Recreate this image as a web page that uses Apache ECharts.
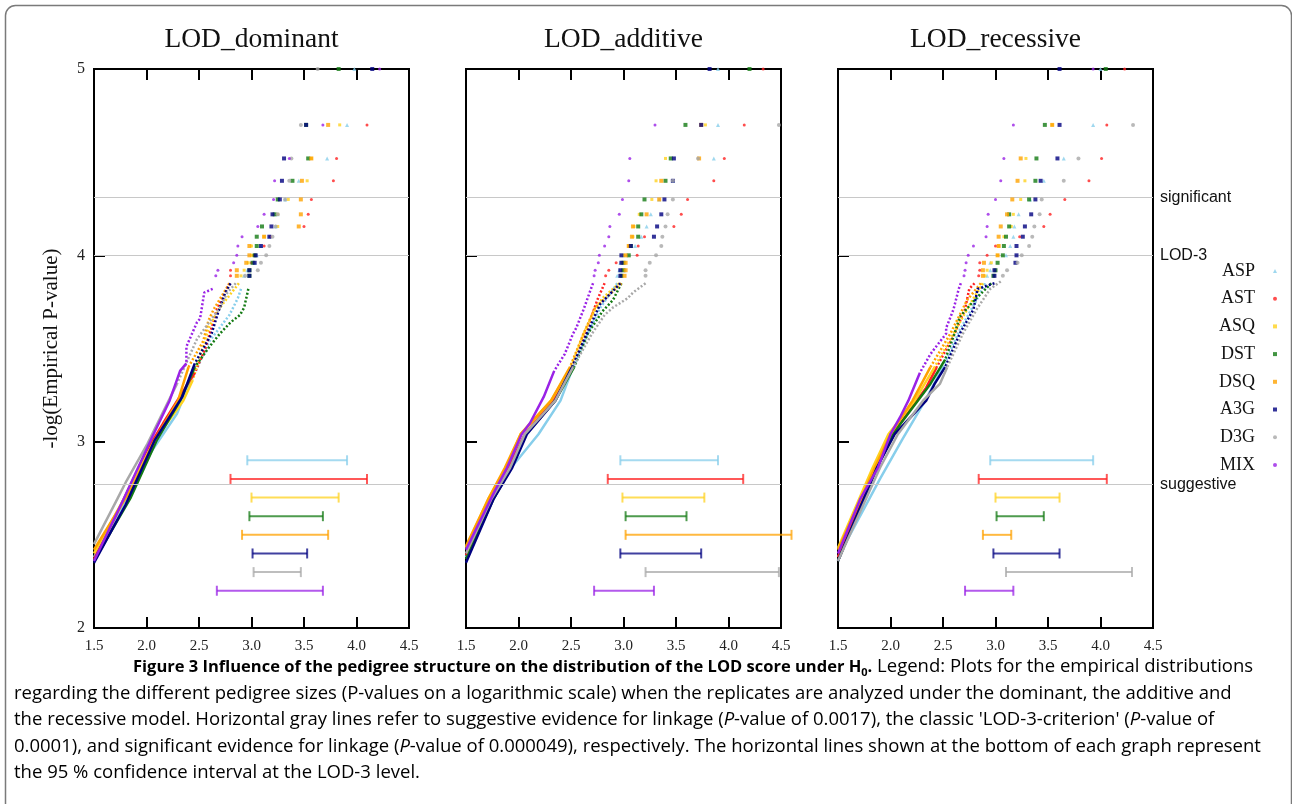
<!DOCTYPE html>
<html>
<head>
<meta charset="utf-8">
<script src="https://cdn.jsdelivr.net/npm/echarts@6/dist/echarts.min.js"></script>
<style>
  html, body { margin: 0; padding: 0; background: #fff; }
  #chart { width: 1292px; height: 804px; }
</style>
</head>
<body>
<div id="chart"></div>
<script>
// pedigree sizes, in legend order
const NAMES = ["ASP", "AST", "ASQ", "DST", "DSQ", "A3G", "D3G", "MIX"];
const COLORS = ["#87ceeb", "#ff2020", "#ffd21f", "#137a13", "#ffa200", "#000080", "#a8a8a8", "#9a22e6"];
const SYMBOLS = ["triangle", "circle", "rect", "rect", "rect", "rect", "circle", "circle"];
const SIZES = [4, 3, 3, 4, 4, 4, 4, 3];

const TITLES = ["LOD_dominant", "LOD_additive", "LOD_recessive"];

// -log(p) levels of the top ranked replicates (discrete points)
const LEVEL_Y = [5.0, 4.70, 4.52, 4.40, 4.30, 4.22, 4.155, 4.10, 4.05, 4.00, 3.96, 3.92, 3.89];
// y position of the confidence interval bars
const CI_Y = [2.9, 2.8, 2.7, 2.6, 2.5, 2.4, 2.3, 2.2];
// reference lines
const REF_Y = [2.77, 4.0, 4.31];
const REF_LABELS = ["suggestive", "LOD-3", "significant"];

// ---- LOD_dominant ----
const domLevels = [
  [3.98, 3.91, 3.72, 3.45, 3.32, 3.25, 3.23, 3.17, 3.09, 3.05, 3.03, 2.96, 2.93],
  [null, 4.10, 3.81, 3.78, 3.57, 3.54, 3.50, 3.18, 3.12, 3.02, 3.00, 2.80, 2.80],
  [null, 3.84, 3.57, 3.53, 3.35, 3.25, 3.25, 3.12, 3.00, 3.00, 2.97, 2.93, 2.90],
  [3.83, 3.52, 3.54, 3.39, 3.25, 3.22, 3.10, 3.05, 3.05, 3.03, 3.01, 2.98, 2.98],
  [null, 3.73, 3.57, 3.48, 3.47, 3.47, 3.45, 3.12, 2.98, 2.98, 2.95, 2.86, 2.86],
  [4.15, 3.52, 3.31, 3.29, 3.27, 3.20, 3.19, 3.17, 3.09, 3.04, 3.03, 2.98, 2.98],
  [3.63, 3.47, 3.38, 3.36, 3.32, 3.25, 3.23, 3.20, 3.17, 3.14, 3.09, 3.06, 2.94],
  [4.22, 3.68, 3.36, 3.22, 3.21, 3.12, 3.06, 2.91, 2.87, 2.86, 2.83, 2.68, 2.66]
];
const domTails = [
  [[2.90, 3.82], [2.87, 3.77], [2.79, 3.68], [2.60, 3.54], [2.43, 3.33], [2.37, 3.26], [2.29, 3.15], [2.05, 2.95], [1.75, 2.62], [1.5, 2.38]],
  [[2.79, 3.85], [2.67, 3.71], [2.64, 3.65], [2.56, 3.50], [2.46, 3.37], [2.16, 3.10], [2.0, 2.95], [1.75, 2.65], [1.5, 2.37]],
  [[2.88, 3.85], [2.70, 3.72], [2.60, 3.62], [2.52, 3.48], [2.44, 3.33], [2.35, 3.22], [2.08, 3.01], [1.85, 2.76], [1.5, 2.40]],
  [[2.97, 3.82], [2.93, 3.72], [2.89, 3.68], [2.80, 3.64], [2.70, 3.58], [2.60, 3.51], [2.46, 3.40], [2.32, 3.22], [2.10, 3.01], [1.85, 2.70], [1.5, 2.36]],
  [[2.79, 3.85], [2.64, 3.71], [2.59, 3.65], [2.54, 3.54], [2.40, 3.40], [2.30, 3.22], [2.08, 3.01], [1.87, 2.76], [1.5, 2.42]],
  [[2.80, 3.85], [2.75, 3.80], [2.68, 3.69], [2.62, 3.58], [2.46, 3.42], [2.34, 3.24], [2.08, 3.01], [1.80, 2.66], [1.5, 2.35]],
  [[2.85, 3.85], [2.77, 3.80], [2.70, 3.72], [2.48, 3.55], [2.29, 3.31], [2.01, 2.99], [1.81, 2.79], [1.72, 2.69], [1.5, 2.45]],
  [[2.63, 3.82], [2.55, 3.80], [2.51, 3.66], [2.48, 3.64], [2.38, 3.51], [2.38, 3.42], [2.32, 3.38], [2.22, 3.22], [2.05, 3.02], [1.78, 2.69], [1.5, 2.36]]
];
const domCI = [[2.96, 3.91], [2.80, 4.10], [3.00, 3.83], [2.98, 3.68], [2.91, 3.73], [3.01, 3.53], [3.02, 3.47], [2.67, 3.68]];

// ---- LOD_additive ----
const addLevels = [
  [3.90, 3.90, 3.86, 3.47, 3.34, 3.26, 3.22, 3.17, 3.11, 3.00, 2.97, 2.96, 2.94],
  [4.33, 4.15, 3.96, 3.86, 3.61, 3.55, 3.48, 3.20, 3.14, 3.13, 2.93, 2.86, 2.83],
  [null, 3.78, 3.40, 3.31, 3.27, 3.15, 3.10, 3.09, 3.05, 3.00, 2.99, 2.99, 2.98],
  [4.20, 3.59, 3.45, 3.40, 3.20, 3.17, 3.14, 3.14, 3.07, 3.05, 3.00, 3.00, 2.98],
  [null, 3.74, 3.72, 3.36, 3.34, 3.22, 3.09, 3.08, 3.05, 3.02, 3.02, 3.02, 3.01],
  [3.82, 3.74, 3.48, 3.47, 3.39, 3.36, 3.32, 3.29, 3.07, 2.98, 2.98, 2.97, 2.97],
  [null, 4.48, 3.71, 3.47, 3.47, 3.42, 3.40, 3.37, 3.36, 3.31, 3.25, 3.21, 3.21],
  [null, 3.30, 3.06, 3.05, 2.99, 2.96, 2.87, 2.86, 2.82, 2.77, 2.76, 2.73, 2.72]
];
const addTails = [
  [[2.94, 3.85], [2.88, 3.80], [2.78, 3.72], [2.66, 3.58], [2.52, 3.40], [2.40, 3.22], [2.19, 3.04], [1.93, 2.86], [1.75, 2.69], [1.5, 2.38]],
  [[2.82, 3.85], [2.75, 3.76], [2.64, 3.58], [2.51, 3.40], [2.33, 3.22], [2.06, 3.04], [1.90, 2.86], [1.73, 2.69], [1.5, 2.39]],
  [[2.96, 3.85], [2.80, 3.77], [2.72, 3.70], [2.62, 3.58], [2.50, 3.40], [2.31, 3.22], [2.02, 3.04], [1.88, 2.86], [1.71, 2.69], [1.5, 2.43]],
  [[2.98, 3.85], [2.90, 3.76], [2.80, 3.70], [2.66, 3.58], [2.53, 3.40], [2.35, 3.22], [2.07, 3.04], [1.93, 2.86], [1.76, 2.69], [1.5, 2.37]],
  [[2.98, 3.85], [2.85, 3.78], [2.73, 3.72], [2.62, 3.58], [2.49, 3.40], [2.31, 3.22], [2.02, 3.04], [1.87, 2.86], [1.71, 2.69], [1.5, 2.44]],
  [[2.97, 3.85], [2.85, 3.78], [2.78, 3.74], [2.65, 3.58], [2.51, 3.40], [2.35, 3.22], [2.08, 3.04], [1.94, 2.86], [1.76, 2.69], [1.5, 2.35]],
  [[3.21, 3.85], [3.09, 3.80], [3.04, 3.77], [2.90, 3.72], [2.82, 3.68], [2.70, 3.58], [2.52, 3.40], [2.35, 3.22], [2.06, 3.04], [1.92, 2.86], [1.74, 2.69], [1.5, 2.40]],
  [[2.71, 3.85], [2.69, 3.82], [2.62, 3.71], [2.55, 3.61], [2.52, 3.58], [2.44, 3.47], [2.34, 3.38], [2.24, 3.24], [2.11, 3.10], [2.03, 3.04], [1.89, 2.86], [1.76, 2.72], [1.5, 2.42]]
];
const addCI = [[2.97, 3.90], [2.85, 4.14], [2.99, 3.77], [3.02, 3.60], [3.02, 4.60], [2.97, 3.74], [3.21, 4.48], [2.72, 3.29]];

// ---- LOD_recessive ----
const recLevels = [
  [4.00, 3.93, 3.65, 3.46, 3.33, 3.22, 3.18, 3.17, 3.14, 3.10, 2.95, 2.95, 2.92],
  [4.23, 4.06, 4.01, 3.89, 3.66, 3.52, 3.46, 3.23, 3.00, 2.92, 2.85, 2.85, 2.84],
  [null, 3.54, 3.29, 3.28, 3.24, 3.17, 3.15, 3.08, 3.03, 3.02, 2.96, 2.92, 2.90],
  [4.05, 3.47, 3.39, 3.38, 3.32, 3.13, 3.13, 3.10, 3.08, 3.07, 3.02, 3.00, 2.98],
  [null, 3.54, 3.24, 3.21, 3.16, 3.11, 3.05, 3.03, 3.03, 3.02, 2.89, 2.88, 2.88],
  [3.61, 3.61, 3.59, 3.43, 3.38, 3.34, 3.28, 3.26, 3.20, 3.20, 3.19, 2.99, 2.99],
  [null, 4.31, 3.79, 3.65, 3.44, 3.42, 3.37, 3.35, 3.32, 3.25, 3.21, 3.11, 3.07],
  [3.93, 3.17, 3.08, 3.05, 3.00, 2.93, 2.92, 2.91, 2.79, 2.74, 2.72, 2.71, 2.70]
];
const recTails = [
  [[2.90, 3.85], [2.82, 3.76], [2.66, 3.60], [2.50, 3.40], [2.33, 3.22], [2.11, 3.01], [1.90, 2.80], [1.5, 2.38]],
  [[2.80, 3.85], [2.75, 3.82], [2.71, 3.71], [2.61, 3.58], [2.44, 3.40], [2.34, 3.29], [2.02, 3.04], [1.86, 2.86], [1.5, 2.38]],
  [[2.88, 3.85], [2.78, 3.76], [2.60, 3.58], [2.42, 3.40], [2.23, 3.22], [1.98, 3.04], [1.83, 2.86], [1.5, 2.43]],
  [[2.96, 3.85], [2.80, 3.76], [2.66, 3.67], [2.61, 3.58], [2.52, 3.44], [2.38, 3.31], [2.02, 3.04], [1.87, 2.86], [1.5, 2.36]],
  [[2.86, 3.85], [2.73, 3.76], [2.57, 3.58], [2.38, 3.40], [2.21, 3.22], [2.00, 3.04], [1.85, 2.86], [1.5, 2.42]],
  [[2.99, 3.85], [2.83, 3.82], [2.79, 3.71], [2.69, 3.61], [2.66, 3.58], [2.52, 3.40], [2.42, 3.31], [2.34, 3.22], [2.04, 3.04], [1.87, 2.86], [1.5, 2.36]],
  [[3.05, 3.86], [2.95, 3.82], [2.82, 3.71], [2.69, 3.58], [2.54, 3.40], [2.47, 3.31], [2.31, 3.22], [2.07, 3.04], [1.90, 2.86], [1.5, 2.36]],
  [[2.67, 3.85], [2.65, 3.82], [2.60, 3.71], [2.53, 3.61], [2.53, 3.58], [2.38, 3.47], [2.28, 3.37], [2.17, 3.22], [2.09, 3.13], [2.00, 3.04], [1.88, 2.86], [1.71, 2.69], [1.5, 2.40]]
];
const recCI = [[2.95, 3.93], [2.84, 4.06], [3.00, 3.61], [3.01, 3.46], [2.88, 3.15], [2.98, 3.61], [3.10, 4.30], [2.71, 3.17]];

const panels = [
  { levels: domLevels, tails: domTails, ci: domCI },
  { levels: addLevels, tails: addTails, ci: addCI },
  { levels: recLevels, tails: recTails, ci: recCI }
];

const SERIF = "Liberation Serif";
const SANS = "Liberation Sans";
const GRID_LEFT = [94, 466, 838];
const GRID_TOP = 69, GRID_W = 315, GRID_H = 559;
const DOT_LIMIT = 3.45; // above this the ranked points are sparse (dotted)

const grids = [], xAxes = [], yAxes = [];
const scatterSeries = [], lineSeries = [], ciSeries = [];

panels.forEach((pnl, p) => {
  grids.push({ left: GRID_LEFT[p], top: GRID_TOP, width: GRID_W, height: GRID_H, show: true, borderColor: "#000", borderWidth: 2, backgroundColor: "transparent" });
  const tick = { show: true, inside: true, length: 11, lineStyle: { color: "#000", width: 2 } };
  xAxes.push({
    gridIndex: p, type: "value", min: 1.5, max: 4.5, interval: 0.5, position: "bottom",
    axisLine: { show: true, lineStyle: { color: "#000", width: 2 } }, axisTick: tick, splitLine: { show: false },
    axisLabel: { show: true, margin: 11, color: "#222", fontFamily: SERIF, fontSize: 15, formatter: v => v.toFixed(1) }
  });
  xAxes.push({
    gridIndex: p, type: "value", min: 1.5, max: 4.5, interval: 0.5, position: "top",
    axisLine: { show: true, lineStyle: { color: "#000", width: 2 } }, axisTick: tick, splitLine: { show: false },
    axisLabel: { show: false }
  });
  yAxes.push({
    gridIndex: p, type: "value", min: 2, max: 5, interval: 1,
    axisLine: { show: true, lineStyle: { color: "#000", width: 2 } }, axisTick: tick, splitLine: { show: false },
    axisLabel: { show: p === 0, margin: 9, color: "#222", fontFamily: SERIF, fontSize: 16 },
    name: p === 0 ? "-log(Empirical P-value)" : "", nameLocation: "middle", nameGap: 32,
    nameTextStyle: { fontFamily: SERIF, fontSize: 21, color: "#111" }
  });

  NAMES.forEach((name, i) => {
    const pts = [];
    pnl.levels[i].forEach((x, k) => { if (x !== null) pts.push([x, LEVEL_Y[k]]); });
    scatterSeries.push({
      name, type: "scatter", xAxisIndex: p * 2, yAxisIndex: p, data: pts,
      symbol: SYMBOLS[i], symbolSize: SIZES[i], itemStyle: { color: COLORS[i] }, z: 5 + i * 0.01, silent: true
    });
    const tail = pnl.tails[i];
    let cut = tail.findIndex(pt => pt[1] <= DOT_LIMIT);
    if (cut < 0) cut = tail.length - 1;
    lineSeries.push({
      name, type: "line", xAxisIndex: p * 2, yAxisIndex: p, data: tail.slice(0, cut + 1),
      showSymbol: false, symbol: "none", silent: true, z: 3,
      lineStyle: { color: COLORS[i], width: 2.5, type: [2, 2], cap: "butt" }
    });
    lineSeries.push({
      name, type: "line", xAxisIndex: p * 2, yAxisIndex: p, data: tail.slice(cut),
      showSymbol: false, symbol: "none", silent: true, z: 4,
      lineStyle: { color: COLORS[i], width: 2.5 }
    });
  });

  ciSeries.push({
    name: "CI", type: "custom", xAxisIndex: p * 2, yAxisIndex: p, silent: true, z: 4,
    data: pnl.ci.map((c, i) => [c[0], c[1], CI_Y[i], i]),
    encode: { x: [0, 1], y: 2 },
    renderItem: (params, api) => {
      const y = api.value(2);
      const a = api.coord([api.value(0), y]);
      const b = api.coord([api.value(1), y]);
      const style = { stroke: COLORS[api.value(3)], lineWidth: 2, opacity: 0.75 };
      const h = 5;
      return {
        type: "group",
        children: [
          { type: "line", shape: { x1: a[0], y1: a[1], x2: b[0], y2: b[1] }, style },
          { type: "line", shape: { x1: a[0], y1: a[1] - h, x2: a[0], y2: a[1] + h }, style },
          { type: "line", shape: { x1: b[0], y1: b[1] - h, x2: b[0], y2: b[1] + h }, style }
        ]
      };
    },
    markLine: {
      silent: true, symbol: ["none", "none"], animation: false,
      lineStyle: { color: "#c8c8c8", width: 1, type: "solid" },
      label: { show: p === 2, position: "end", distance: 7, formatter: "{b}", fontFamily: SANS, fontSize: 16, color: "#111" },
      emphasis: { disabled: true },
      data: REF_Y.map((y, k) => ({ yAxis: y, name: REF_LABELS[k] }))
    }
  });
});

// caption rendered as rich text lines
const CAPTION = [
  "{b|Figure 3 Influence of the pedigree structure on the distribution of the LOD score under H}{s|0}{b|.}{r| Legend: Plots for the empirical distributions}",
  "{r|regarding the different pedigree sizes (P-values on a logarithmic scale) when the replicates are analyzed under the dominant, the additive and}",
  "{r|the recessive model. Horizontal gray lines refer to suggestive evidence for linkage (}{i|P}{r|-value of 0.0017), the classic 'LOD-3-criterion' (}{i|P}{r|-value of}",
  "{r|0.0001), and significant evidence for linkage (}{i|P}{r|-value of 0.000049), respectively. The horizontal lines shown at the bottom of each graph represent}",
  "{r|the 95 % confidence interval at the LOD-3 level.}"
];
const CAP_FONT = "Open Sans";
const capRich = {
  b: { fontFamily: CAP_FONT, fontSize: 16.5, fontWeight: "bold", color: "#222", lineHeight: 22 },
  s: { fontFamily: CAP_FONT, fontSize: 11, fontWeight: "bold", color: "#222", lineHeight: 10, verticalAlign: "bottom" },
  r: { fontFamily: CAP_FONT, fontSize: 18.5, color: "#333", lineHeight: 22 },
  i: { fontFamily: CAP_FONT, fontSize: 18.5, fontStyle: "italic", color: "#333", lineHeight: 22 }
};

const graphics = [
  { type: "rect", left: 3, top: 3, silent: true, z: -1,
    shape: { x: 0, y: 0, width: 1286, height: 830, r: 10 },
    style: { fill: "none", stroke: "#7a7a7a", lineWidth: 1.5 } }
];
TITLES.forEach((t, p) => {
  graphics.push({ type: "text", x: GRID_LEFT[p] + GRID_W / 2, y: 40, silent: true,
    style: { text: t, fill: "#111", font: "27.5px '" + SERIF + "'", textAlign: "center", textVerticalAlign: "middle", align: "center", verticalAlign: "middle" } });
});
CAPTION.forEach((line, k) => {
  graphics.push({ type: "text", x: k === 0 ? 133 : 14, y: 667 + k * 26.5, silent: true,
    style: { text: line, rich: capRich, textVerticalAlign: "middle", verticalAlign: "middle", textAlign: "left", align: "left" } });
});

const chart = echarts.init(document.getElementById("chart"), null, { renderer: "canvas" });
chart.setOption({
  animation: false,
  backgroundColor: "#fff",
  grid: grids,
  xAxis: xAxes,
  yAxis: yAxes,
  legend: {
    data: NAMES, orient: "vertical", right: 10, top: 257, align: "right",
    itemWidth: 4, itemHeight: 4, itemGap: 9.7, selectedMode: false,
    textStyle: { fontFamily: SERIF, fontSize: 18, color: "#111", lineHeight: 18, padding: [0, 13, 0, 0] }
  },
  series: [...scatterSeries, ...lineSeries, ...ciSeries],
  graphic: graphics
});
</script>
</body>
</html>
